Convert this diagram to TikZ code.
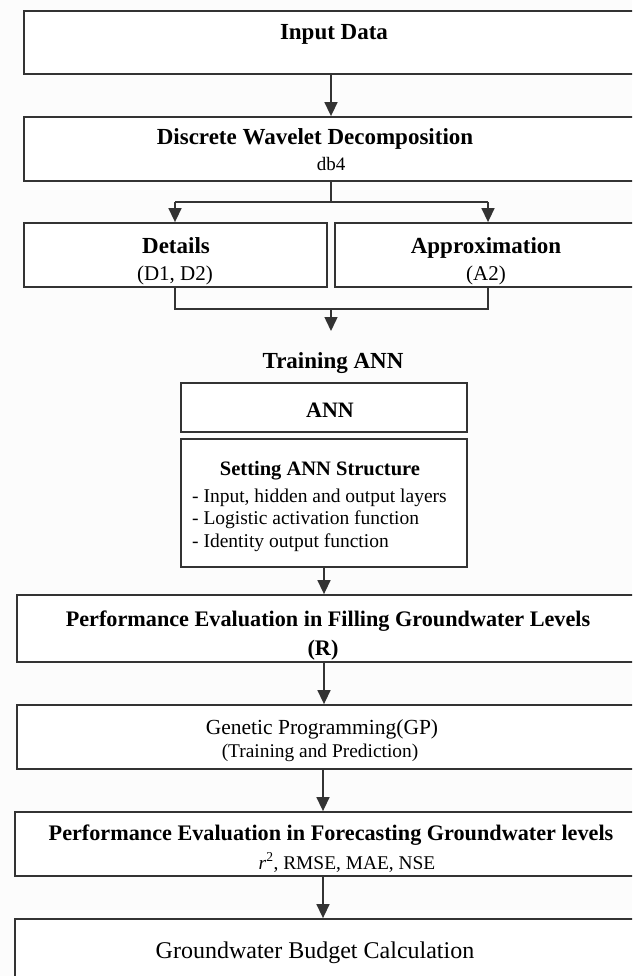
\documentclass[tikz,border=0pt]{standalone}
\usepackage{fontspec}
\setmainfont{Liberation Serif}
\usetikzlibrary{arrows.meta}
\definecolor{ln}{HTML}{333333}
\definecolor{bg}{HTML}{FCFCFC}
\tikzset{
  box/.style={draw=ln, line width=1.8pt, fill=white, minimum width=#1, inner sep=0pt, anchor=center},
  arr/.style={draw=ln, line width=1.5pt, -{Triangle[length=14pt,width=13pt]}},
  ln/.style={draw=ln, line width=1.5pt},
  hb/.style={font=\fontsize{23}{27}\selectfont\bfseries, anchor=base, inner sep=0pt},
  pb/.style={font=\fontsize{22.2}{26}\selectfont\bfseries, anchor=base, inner sep=0pt},
  sn/.style={font=\fontsize{19.4}{23}\selectfont, anchor=base, inner sep=0pt},
  item/.style={font=\fontsize{19.5}{23}\selectfont, anchor=base west, inner sep=0pt}
}
\begin{document}
\begin{tikzpicture}[x=1pt,y=-1pt]
\fill[bg] (0,0) rectangle (632,976);
\useasboundingbox (0,0) rectangle (632,976);
\clip (0,0) rectangle (632,976);
% boxes
\node[box=616pt, minimum height=63pt] (inbox) at (332,42.5) {};
\node[box=616pt, minimum height=64pt] (dwd) at (332,149) {};
\node[box=303pt, minimum height=64pt] (det) at (175.5,255) {};
\node[box=305pt, minimum height=64pt] (appr) at (487.5,255) {};
\node[box=286pt, minimum height=49pt] (ann) at (324,407.5) {};
\node[box=286pt, minimum height=128pt] (set) at (324,503) {};
\node[box=623pt, minimum height=67pt] (perf) at (328.5,628.5) {};
\node[box=623pt, minimum height=64pt] (gp) at (328.5,737) {};
\node[box=625pt, minimum height=64pt] (perf2) at (327.5,844) {};
\node[box=625pt, minimum height=71pt] (bud) at (327.5,954.5) {};
% texts
\node[hb] (t1) at (334,40) {Input Data};
\node[hb] (t2) at (315,145) {Discrete Wavelet Decomposition};
\node[font=\fontsize{19}{23}\selectfont, anchor=base, inner sep=0pt] (t3) at (331,171) {db4};
\node[hb] (t4) at (176,253) {Details};
\node[font=\fontsize{21}{25}\selectfont, anchor=base, inner sep=0pt] (t5) at (175,280) {(D1, D2)};
\node[hb] (t6) at (486,253) {Approximation};
\node[font=\fontsize{21}{25}\selectfont, anchor=base, inner sep=0pt] (t7) at (486,280) {(A2)};
\node[hb] (t8) at (333,368) {Training ANN};
\node[font=\fontsize{22}{26}\selectfont\bfseries, anchor=base, inner sep=0pt] (t9) at (330,417) {ANN};
\node[font=\fontsize{20.5}{24}\selectfont\bfseries, anchor=base, inner sep=0pt] (t10) at (320,475) {Setting ANN Structure};
\node[item] (i1) at (192,502) {- Input, hidden and output layers};
\node[item] (i2) at (192,524) {- Logistic activation function};
\node[item] (i3) at (192,547) {- Identity output function};
\node[pb] (t11) at (328,626) {Performance Evaluation in Filling Groundwater Levels};
\node[pb] (t12) at (323,655) {(R)};
\node[font=\fontsize{21.5}{25}\selectfont, anchor=base, inner sep=0pt] (t13) at (322,734) {Genetic Programming(GP)};
\node[sn] (t14) at (320,757) {(Training and Prediction)};
\node[pb] (t15) at (331,840) {Performance Evaluation in Forecasting Groundwater levels};
\node[sn] (t16) at (347,869) {\textit{r}\textsuperscript{2}, RMSE, MAE, NSE};
\node[font=\fontsize{24}{28}\selectfont, anchor=base, inner sep=0pt] (t17) at (315,958) {Groundwater Budget Calculation};
% connector helper coordinates
\coordinate (c1) at (331,0);
\coordinate (sp) at (331,202);
\coordinate (sl) at (175,202);
\coordinate (sr) at (488,202);
\coordinate (ml) at (175,309);
\coordinate (mr) at (488,309);
\coordinate (mc) at (331,309);
\coordinate (tn) at (331,331);
\coordinate (c2) at (324,0);
\coordinate (c3) at (323,0);
% connectors
\draw[arr] (inbox.south -| c1) -- (dwd.north -| c1);
\draw[ln] (dwd.south -| c1) -- (sp);
\draw[ln] (sl) -- (sr);
\draw[arr] (sl) -- (det.north -| sl);
\draw[arr] (sr) -- (appr.north -| sr);
\draw[ln] (det.south -| ml) -- (ml) -- (mr) -- (appr.south -| mr);
\draw[arr] (mc) -- (tn);
\draw[arr] (set.south -| c2) -- (perf.north -| c2);
\draw[arr] (perf.south -| c2) -- (gp.north -| c2);
\draw[arr] (gp.south -| c3) -- (perf2.north -| c3);
\draw[arr] (perf2.south -| c3) -- (bud.north -| c3);
\end{tikzpicture}
\end{document}
